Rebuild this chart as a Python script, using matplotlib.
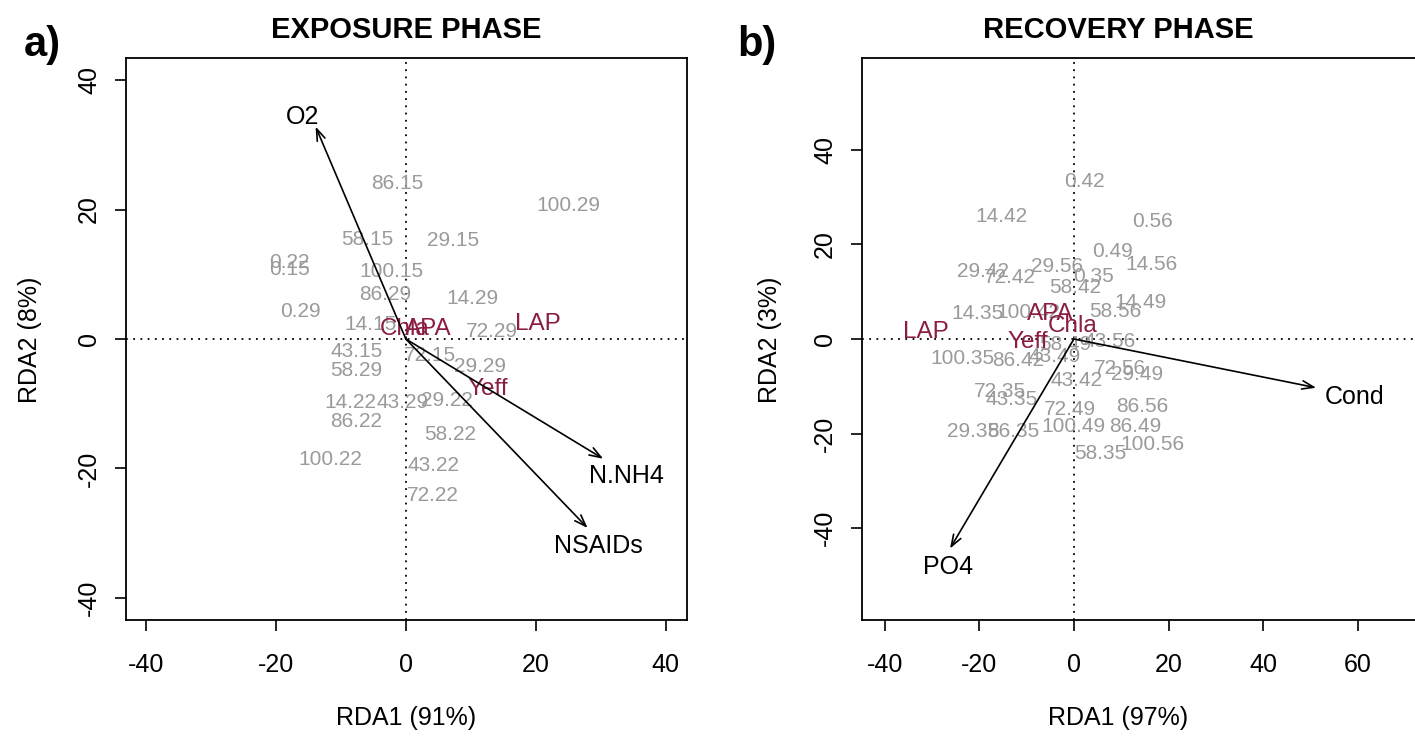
import matplotlib
matplotlib.use("Agg")
import matplotlib.pyplot as plt

plt.rcParams["font.family"] = ["Liberation Sans", "DejaVu Sans"]

# ---------------- Exposure phase (panel a) ----------------
exp_sites = ["0.15", "14.15", "29.15", "43.15", "58.15", "72.15", "86.15", "100.15",
             "0.22", "14.22", "29.22", "43.22", "58.22", "72.22", "86.22", "100.22",
             "0.29", "14.29", "29.29", "43.29", "58.29", "72.29", "86.29", "100.29"]
exp_site_x = [-17.9, -5.5, 7.2, -7.6, -5.9, 3.7, -1.4, -2.2,
              -17.9, -8.6, 6.3, 4.2, 6.8, 4.2, -7.6, -11.7,
              -16.3, 10.2, 11.4, -0.5, -7.7, 13.3, -3.2, 25.0]
exp_site_y = [10.8, 2.3, 15.2, -2.0, 15.4, -2.6, 24.0, 10.5,
              11.8, -9.8, -9.5, -19.5, -14.8, -24.2, -12.8, -18.6,
              4.3, 6.2, -4.3, -9.8, -4.9, 1.1, 6.9, 20.6]

exp_species = ["Chla", "APA", "LAP", "Yeff"]
exp_species_x = [-0.2, 3.4, 20.3, 12.6]
exp_species_y = [1.5, 1.5, 2.3, -7.7]

exp_env = ["O2", "N.NH4", "NSAIDs"]
exp_env_x = [-13.9, 30.4, 28.0]
exp_env_y = [32.8, -18.5, -29.2]
exp_env_lab_x = [-15.9, 34.0, 29.6]
exp_env_lab_y = [34.3, -21.2, -32.0]

# ---------------- Recovery phase (panel b) ----------------
rec_sites = ["0.35", "14.35", "29.35", "43.35", "58.35", "72.35", "86.35", "100.35",
             "0.42", "14.42", "29.42", "43.42", "58.42", "72.42", "86.42", "100.42",
             "0.49", "14.49", "29.49", "43.49", "58.49", "72.49", "86.49", "100.49",
             "0.56", "14.56", "29.56", "43.56", "58.56", "72.56", "86.56", "100.56"]
rec_site_x = [4.2, -20.3, -21.4, -13.1, 5.5, -15.6, -12.9, -23.5,
              2.3, -15.4, -19.2, 0.6, 0.2, -13.5, -11.8, -9.7,
              8.2, 14.0, 13.3, -4.0, -1.9, -0.8, 12.9, -0.2,
              16.5, 16.3, -3.6, 7.6, 8.7, 9.7, 14.4, 16.5]
rec_site_y = [13.3, 5.3, -19.6, -12.7, -24.3, -11.0, -19.6, -4.2,
              33.3, 26.0, 14.3, -8.8, 10.9, 13.0, -4.6, 5.7,
              18.4, 7.8, -7.4, -3.6, -1.1, -14.8, -18.6, -18.6,
              24.9, 15.8, 15.4, -0.6, 5.9, -6.3, -14.3, -22.2]

rec_species = ["LAP", "APA", "Chla", "Yeff"]
rec_species_x = [-31.3, -5.1, -0.2, -9.7]
rec_species_y = [1.5, 5.3, 2.7, -0.6]

rec_env = ["Cond", "PO4"]
rec_env_x = [51.2, -26.2]
rec_env_y = [-10.3, -44.3]
rec_env_lab_x = [59.4, -26.6]
rec_env_lab_y = [-12.2, -48.1]

SITE_COL = "#9a9a9a"
SPEC_COL = "#8b1d42"

W, H = 1415, 740
fig = plt.figure(figsize=(W / 100, H / 100), dpi=100)
fig.patch.set_facecolor("white")


def rda_panel(ax, sites, sx, sy, spec, spx, spy, env, ex, ey, elx, ely,
              xlim, ylim, xticks, yticks):
    ax.set_xlim(*xlim)
    ax.set_ylim(*ylim)
    ax.axhline(0, color="black", lw=1.3, ls=(0, (1, 3)), zorder=1)
    ax.axvline(0, color="black", lw=1.3, ls=(0, (1, 3)), zorder=1)
    for s, x, y in zip(sites, sx, sy):
        ax.text(x, y, s, color=SITE_COL, fontsize=15, ha="center", va="center", zorder=2)
    for s, x, y in zip(spec, spx, spy):
        ax.text(x, y, s, color=SPEC_COL, fontsize=17.5, ha="center", va="center", zorder=3)
    for s, x, y, lx, ly in zip(env, ex, ey, elx, ely):
        ax.annotate("", xy=(x, y), xytext=(0, 0),
                    arrowprops=dict(arrowstyle="->,head_length=0.7,head_width=0.25",
                                    color="black", lw=1.2, mutation_scale=12,
                                    shrinkA=0, shrinkB=0), zorder=4)
        ax.text(lx, ly, s, color="black", fontsize=18, ha="center", va="center", zorder=4)
    ax.set_xticks(xticks)
    ax.set_yticks(yticks)
    ax.set_xticklabels([str(t) for t in xticks])
    ax.set_yticklabels([str(t) for t in yticks], rotation=90, va="center")
    ax.tick_params(axis="both", direction="out", length=8, width=1.2, labelsize=18)
    ax.tick_params(axis="x", pad=16)
    ax.tick_params(axis="y", pad=10)
    for sp in ax.spines.values():
        sp.set_linewidth(1.3)


ax1 = fig.add_axes([126 / W, 120 / H, 561 / W, 562 / H])
rda_panel(ax1, exp_sites, exp_site_x, exp_site_y, exp_species, exp_species_x, exp_species_y,
          exp_env, exp_env_x, exp_env_y, exp_env_lab_x, exp_env_lab_y,
          (-43.1, 43.3), (-43.4, 43.4), [-40, -20, 0, 20, 40], [-40, -20, 0, 20, 40])

ax2 = fig.add_axes([862 / W, 120 / H, 563 / W, 562 / H])
rda_panel(ax2, rec_sites, rec_site_x, rec_site_y, rec_species, rec_species_x, rec_species_y,
          rec_env, rec_env_x, rec_env_y, rec_env_lab_x, rec_env_lab_y,
          (-44.8, 74.2), (-59.4, 59.4), [-40, -20, 0, 20, 40, 60], [-40, -20, 0, 20, 40])

# axis labels
fig.text(406 / W, 1 - 718 / H, "RDA1 (91%)", fontsize=18, ha="center", va="center")
fig.text(1118 / W, 1 - 718 / H, "RDA1 (97%)", fontsize=18, ha="center", va="center")
fig.text(30 / W, 1 - 340 / H, "RDA2 (8%)", fontsize=18, ha="center", va="center", rotation=90)
fig.text(770 / W, 1 - 340 / H, "RDA2 (3%)", fontsize=18, ha="center", va="center", rotation=90)

title_font = ["Liberation Sans Narrow", "Liberation Sans", "DejaVu Sans"]
fig.text(406 / W, 1 - 30 / H, "EXPOSURE PHASE", fontsize=21, fontweight="bold",
         ha="center", va="center", family=title_font)
fig.text(1118 / W, 1 - 30 / H, "RECOVERY PHASE", fontsize=21, fontweight="bold",
         ha="center", va="center", family=title_font)
fig.text(42 / W, 1 - 45 / H, "a)", fontsize=30, fontweight="bold", ha="center", va="center",
         family=title_font)
fig.text(757 / W, 1 - 45 / H, "b)", fontsize=30, fontweight="bold", ha="center", va="center",
         family=title_font)

fig.savefig("out.png", dpi=100)
